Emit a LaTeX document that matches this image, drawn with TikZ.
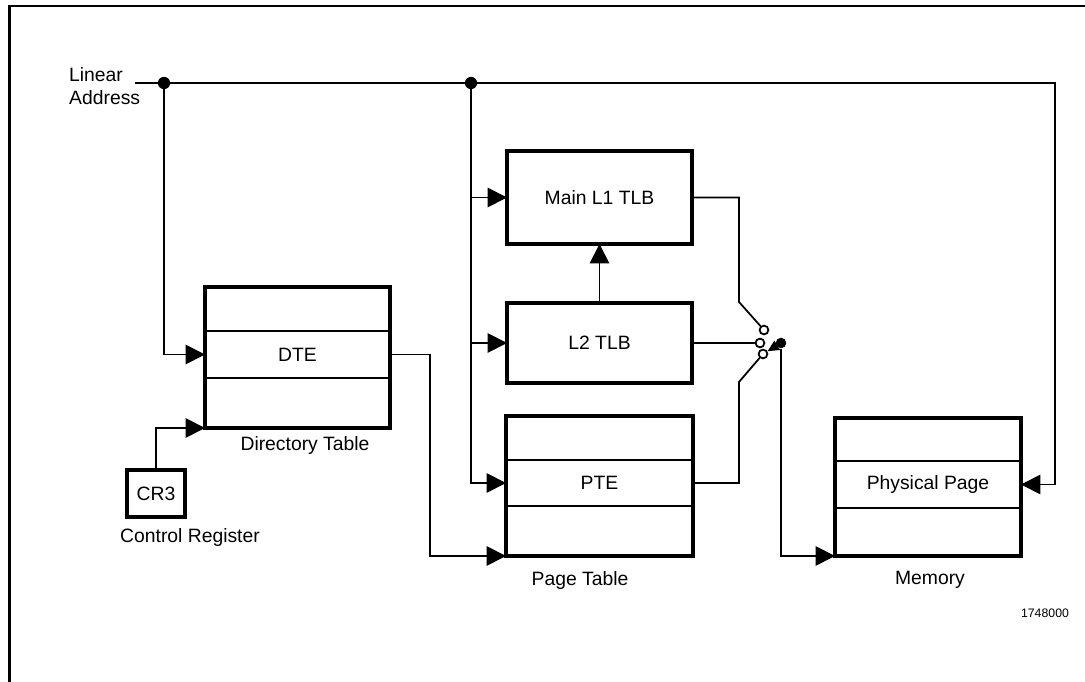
\documentclass[tikz,border=0pt]{standalone}
\usepackage{fontspec}
\setmainfont{Liberation Sans}
\usepackage{tikz}
\usetikzlibrary{arrows.meta, positioning}

\begin{document}
\begin{tikzpicture}[x=0.02cm, y=-0.02cm, >={Triangle[length=11pt,width=11pt]},
	font=\fontsize{11}{13}\selectfont]
	\tikzstyle{tbl}=[draw=black,line width=2.2pt,fill=white,outer sep=0pt,inner sep=0pt]
	\tikzstyle{row}=[draw=black,line width=1.3pt,outer sep=0pt,inner sep=0pt]
	\tikzstyle{wire}=[line width=1pt]
	\tikzstyle{dot}=[circle,fill=black,inner sep=0pt,minimum size=7pt]
	\tikzstyle{pin}=[circle,draw=black,fill=white,line width=1pt,inner sep=0pt,minimum size=5pt]
	\useasboundingbox (0,0) rectangle (1085,682);
	% frame
	\draw[line width=1.5pt] (9.5,682) -- (9.5,6) -- (1085,6);

	% linear address bus
	\node[align=left, anchor=west] (la) at (63,86) {Linear\\Address};
	\coordinate (busin) at (135,83);
	\coordinate (busR) at (1055,83);
	\node[dot] (dot1) at (164,83) {};
	\node[dot] (dot2) at (471,83) {};

	% directory table
	\node[tbl, minimum width=3.7cm, minimum height=2.82cm] (dtab) at (297.5,357.5) {};
	\node[row, minimum width=3.7cm, minimum height=0.94cm] (dte) at (297.5,354.5) {DTE};
	\draw[tbl, fill=none] (dtab.south west) rectangle (dtab.north east);
	\node (dtlbl) at (305,446) {Directory Table};
	\node[tbl, minimum width=1.16cm, minimum height=0.94cm] (cr3) at (156,493.5) {CR3};
	\node (crlbl) at (190,537) {Control Register};

	% TLBs
	\node[tbl, minimum width=3.7cm, minimum height=1.86cm] (l1) at (599.5,197.5) {Main L1 TLB};
	\node[tbl, minimum width=3.7cm, minimum height=1.6cm] (l2) at (599.5,343) {L2 TLB};

	% page table
	\node[tbl, minimum width=3.74cm, minimum height=2.8cm] (ptab) at (599.5,486) {};
	\node[row, minimum width=3.74cm, minimum height=0.92cm] (pte) at (599.5,483) {PTE};
	\draw[tbl, fill=none] (ptab.south west) rectangle (ptab.north east);
	\node (ptlbl) at (580,580) {Page Table};

	% memory
	\node[tbl, minimum width=3.72cm, minimum height=2.76cm] (mem) at (928,487) {};
	\node[row, minimum width=3.72cm, minimum height=0.94cm] (phys) at (928,484.5) {Physical Page};
	\draw[tbl, fill=none] (mem.south west) rectangle (mem.north east);
	\node (memlbl) at (930,580) {Memory};
	\node[font=\fontsize{7}{8}\selectfont] (fig) at (1045,613) {1748000};

	% switch
	\coordinate (sw1) at (739,302);
	\coordinate (sw3) at (739,382);
	\node[pin] (s1) at (764,330) {};
	\node[pin] (s2) at (760,343) {};
	\node[pin] (s3) at (763,354) {};
	\node[dot, minimum size=6pt] (pivot) at (781,343) {};

	% connections
	\draw[wire, ->] (busin) -- (busR) |- (phys.east);
	\draw[wire, ->] (dot1) |- (dte.west);
	\draw[wire, ->] (dot2) |- (pte.west);
	\draw[wire, ->] (dot2 |- l1.west) -- (l1.west);
	\draw[wire, ->] (dot2 |- l2.west) -- (l2.west);
	\draw[wire, ->] (cr3.north) |- (dtab.south west);
	\draw[wire, ->] (dte.east) -- ++(40,0) |- (ptab.south west);
	\draw[wire, ->] (l2.north) -- (l1.south);
	\draw[wire] (l1.east) -| (sw1) -- (s1);
	\draw[wire] (l2.east) -- (s2);
	\draw[wire] (pte.east) -| (sw3) -- (s3);
	\draw[wire, -{Triangle[length=6.5pt,width=6pt]}] (pivot) -- (s3);
	\draw[wire, ->] (pivot) |- (mem.south west);
\end{tikzpicture}
\end{document}
